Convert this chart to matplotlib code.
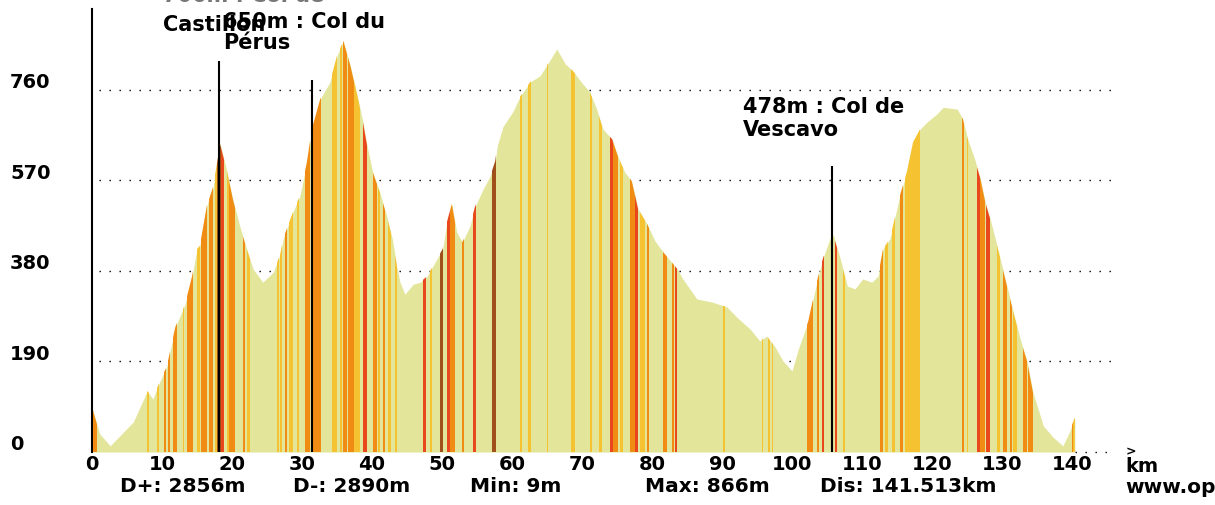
import numpy as np
import matplotlib
matplotlib.use("Agg")
import matplotlib.pyplot as plt
from matplotlib.transforms import blended_transform_factory, offset_copy

# profil altimetrique (km, m)
profile_km = [0.0, 1.1, 2.6, 5.9, 7.9, 8.7, 9.4, 10.7, 11.9, 13.3, 14.3, 15.0, 15.4, 16.4, 17.3,
              18.3, 19.3, 20.1, 21.1, 22.1, 23.0, 24.4, 25.9, 26.9, 27.3, 28.7, 29.7, 30.7, 31.4,
              32.6, 34.0, 35.0, 35.9, 36.9, 37.9, 38.7, 39.3, 40.1, 41.1, 42.1, 42.9, 43.6, 44.0,
              44.7, 45.9, 46.9, 47.9, 48.7, 50.1, 50.7, 51.4, 52.1, 52.9, 54.0, 54.7, 55.9, 56.9,
              57.6, 57.9, 58.7, 60.1, 61.1, 62.6, 64.0, 65.1, 66.4, 67.6, 68.7, 70.1, 71.1, 72.1,
              73.0, 74.3, 75.1, 76.1, 77.1, 78.0, 79.3, 80.4, 81.6, 83.6, 84.4, 86.4, 88.7, 90.7,
              92.1, 94.0, 95.4, 96.4, 97.6, 98.7, 100.0, 100.9, 102.3, 103.6, 104.4, 105.4, 105.9,
              106.9, 107.9, 109.0, 110.1, 111.4, 112.3, 113.0, 114.0, 115.4, 116.4, 117.3, 118.3,
              119.3, 120.7, 121.6, 123.6, 124.4, 125.1, 126.1, 126.9, 127.6, 128.3, 129.3, 130.1,
              131.6, 132.6, 133.6, 134.4, 135.9, 137.3, 138.7, 139.7, 140.4]
profile_m = [94, 38, 13, 63, 128, 111, 138, 180, 262, 310, 369, 426, 432, 516, 556,
             646, 587, 531, 474, 426, 384, 356, 377, 415, 447, 503, 537, 608, 677,
             740, 776, 831, 862, 810, 747, 692, 642, 587, 545, 495, 447, 384, 356,
             331, 352, 356, 369, 390, 426, 482, 520, 461, 440, 474, 514, 552, 579,
             610, 642, 682, 713, 744, 776, 789, 814, 845, 814, 799, 772, 755, 719,
             677, 656, 621, 587, 568, 510, 478, 443, 419, 384, 363, 321, 314, 304,
             283, 258, 233, 243, 220, 191, 170, 216, 273, 360, 405, 447, 455,
             405, 348, 342, 363, 356, 369, 426, 447, 537, 587, 650, 677,
             692, 709, 723, 719, 698, 656, 614, 573, 524, 489, 432, 384,
             294, 237, 189, 126, 55, 31, 13, 44, 73]

# bandes de pente : debut, fin (km), classe
stripe_start = [0.1, 7.9, 9.3, 10.3, 10.9, 11.6, 13.0, 13.6, 15.0, 15.6, 16.7, 17.6, 17.9, 18.4,
                19.3, 19.6, 21.6, 22.1, 26.4, 26.9, 27.6, 28.1, 29.3, 30.4, 31.6, 34.3, 35.4,
                35.9, 36.6, 37.4, 38.7, 40.1, 40.9, 41.6, 42.3, 43.3, 47.3, 48.3, 49.7, 50.7,
                51.1, 52.9, 54.4, 57.1, 61.1, 62.3, 65.0, 68.4, 71.1, 72.4, 74.0, 74.4, 75.4,
                76.9, 77.6, 78.3, 79.3, 81.6, 82.9, 83.3, 90.1, 95.7, 96.6, 97.1, 102.1, 103.6,
                104.3, 106.1, 107.3, 112.6, 113.3, 114.3, 115.4, 116.1, 124.3, 125.0, 126.4,
                126.9, 127.7, 129.3, 130.1, 131.1, 131.6, 133.0, 133.7, 140.0, 140.2]
stripe_end = [0.7, 8.1, 9.5, 10.6, 11.1, 12.1, 13.2, 14.4, 15.4, 16.4, 17.3, 17.9, 18.4, 18.9,
              19.5, 20.4, 21.9, 22.6, 26.7, 27.1, 27.9, 28.7, 29.5, 31.1, 32.7, 35.0, 35.7,
              36.4, 37.4, 38.3, 39.3, 40.7, 41.1, 41.9, 42.7, 43.6, 47.7, 48.5, 50.1, 51.1,
              51.9, 53.1, 54.9, 57.7, 61.4, 62.7, 65.2, 69.0, 71.4, 72.9, 74.4, 75.1, 75.9,
              77.6, 78.0, 79.0, 79.6, 82.1, 83.1, 83.6, 90.4, 95.9, 96.8, 97.3, 103.0, 103.9,
              104.5, 106.4, 107.6, 113.0, 113.7, 114.7, 115.9, 118.3, 124.5, 125.2, 126.9,
              127.6, 128.3, 129.7, 130.7, 131.4, 132.1, 133.6, 134.4, 140.2, 140.4]
stripe_cls = ("OYYOOOYOYOOYBRYOOYYYOYYOOYYOOYROYOYYRYBRO"
              "ORBYYYYYYROYORYOOORYYYYOORRYOYYOYOYRORYOOYOOOY")
assert len(stripe_start) == len(stripe_end) == len(stripe_cls)

# cols
marker_km = [18.1, 31.4, 105.7]
marker_top = [820, 780, 600]

grid_levels = [190, 380, 570, 760]
y_labels = ["0", "190", "380", "570", "760"]
x_ticks = list(range(0, 141, 10))
stats = ["D+: 2856m", "D-: 2890m", "Min: 9m", "Max: 866m", "Dis: 141.513km"]
stats_px = [120, 293, 470, 645, 820]

colors = {"Y": "#f5c232", "O": "#f08c14", "R": "#e8481c", "B": "#a0501a"}
fill_col = "#e3e59b"

W, H = 1215, 506
fig = plt.figure(figsize=(W / 100, H / 100), dpi=100)
x0, y0, x1, ytop = 92, 453, 1122, 10
pxkm = 7.0
pxm = 90.6 / 190
ax = fig.add_axes([x0 / W, (H - y0) / H, (x1 - x0) / W, (y0 - ytop) / H])
ax.set_xlim(0, (x1 - x0) / pxkm)
ax.set_ylim(0, (y0 - ytop) / pxm)
for s in ["top", "right", "bottom"]:
    ax.spines[s].set_visible(False)
ax.spines["left"].set_linewidth(1.5)
ax.set_xticks([])
ax.set_yticks([])

# grille pointillee
ax.hlines(grid_levels, 1.0, 146.0, colors="k", linestyles=(0, (1, 6.2)), linewidth=1.0, zorder=1)
ax.hlines([0], profile_km[-1], 146.0, colors="k", linestyles=(0, (1, 6.2)), linewidth=1.0,
          zorder=1, clip_on=False)

poly = ax.fill_between(profile_km, profile_m, 0, color=fill_col, linewidth=0, zorder=2)
clip = poly.get_paths()[0]

ymax = ax.get_ylim()[1]
for a, b, c in zip(stripe_start, stripe_end, stripe_cls):
    bar = ax.bar(a, ymax, width=b - a, align="edge", color=colors[c], linewidth=0, zorder=3)
    for p in bar:
        p.set_clip_path(clip, ax.transData)

ax.vlines(marker_km, 0, marker_top, colors="k", linewidth=1.5, zorder=4)

font = dict(family="DejaVu Sans", weight="bold", color="black")

# etiquettes axe y
tr_y = offset_copy(blended_transform_factory(fig.transFigure, ax.transData), fig=fig, x=0, y=8, units="dots")
for lab in y_labels:
    ax.text(10 / W, float(lab), lab, transform=tr_y, ha="left", va="center", fontsize=14, **font)

# etiquettes axe x
tr_x = blended_transform_factory(ax.transData, fig.transFigure)
for t in x_ticks:
    ax.text(t, 1 - 465 / H, str(t), transform=tr_x, ha="center", va="center", fontsize=14,
            clip_on=False, **font)
fig.text(1125 / W, 1 - 467 / H, "km", ha="left", va="center", fontsize=14, **font)
fig.text(1126 / W, 1 - 452 / H, ">", ha="left", va="center", fontsize=9, **font)

for s, px in zip(stats, stats_px):
    fig.text(px / W, 1 - 487 / H, s, ha="left", va="center", fontsize=14.5, **font)
fig.text(1125 / W, 1 - 488 / H, "www.openrunner.com", ha="left", va="center", fontsize=14.5, **font)

# noms des cols
fig.text(163 / W, 1 - (-4) / H, "706m : Col de", ha="left", va="center", fontsize=15,
         family="DejaVu Sans", weight="bold", color="#777777")
fig.text(163 / W, 1 - 25 / H, "Castillon", ha="left", va="center", fontsize=15, **font)
fig.text(223 / W, 1 - 22 / H, "650m : Col du", ha="left", va="center", fontsize=15, **font)
fig.text(223 / W, 1 - 43 / H, "Pérus", ha="left", va="center", fontsize=15, **font)
fig.text(743 / W, 1 - 107 / H, "478m : Col de", ha="left", va="center", fontsize=15, **font)
fig.text(743 / W, 1 - 130 / H, "Vescavo", ha="left", va="center", fontsize=15, **font)

fig.savefig("out.png", dpi=100)
